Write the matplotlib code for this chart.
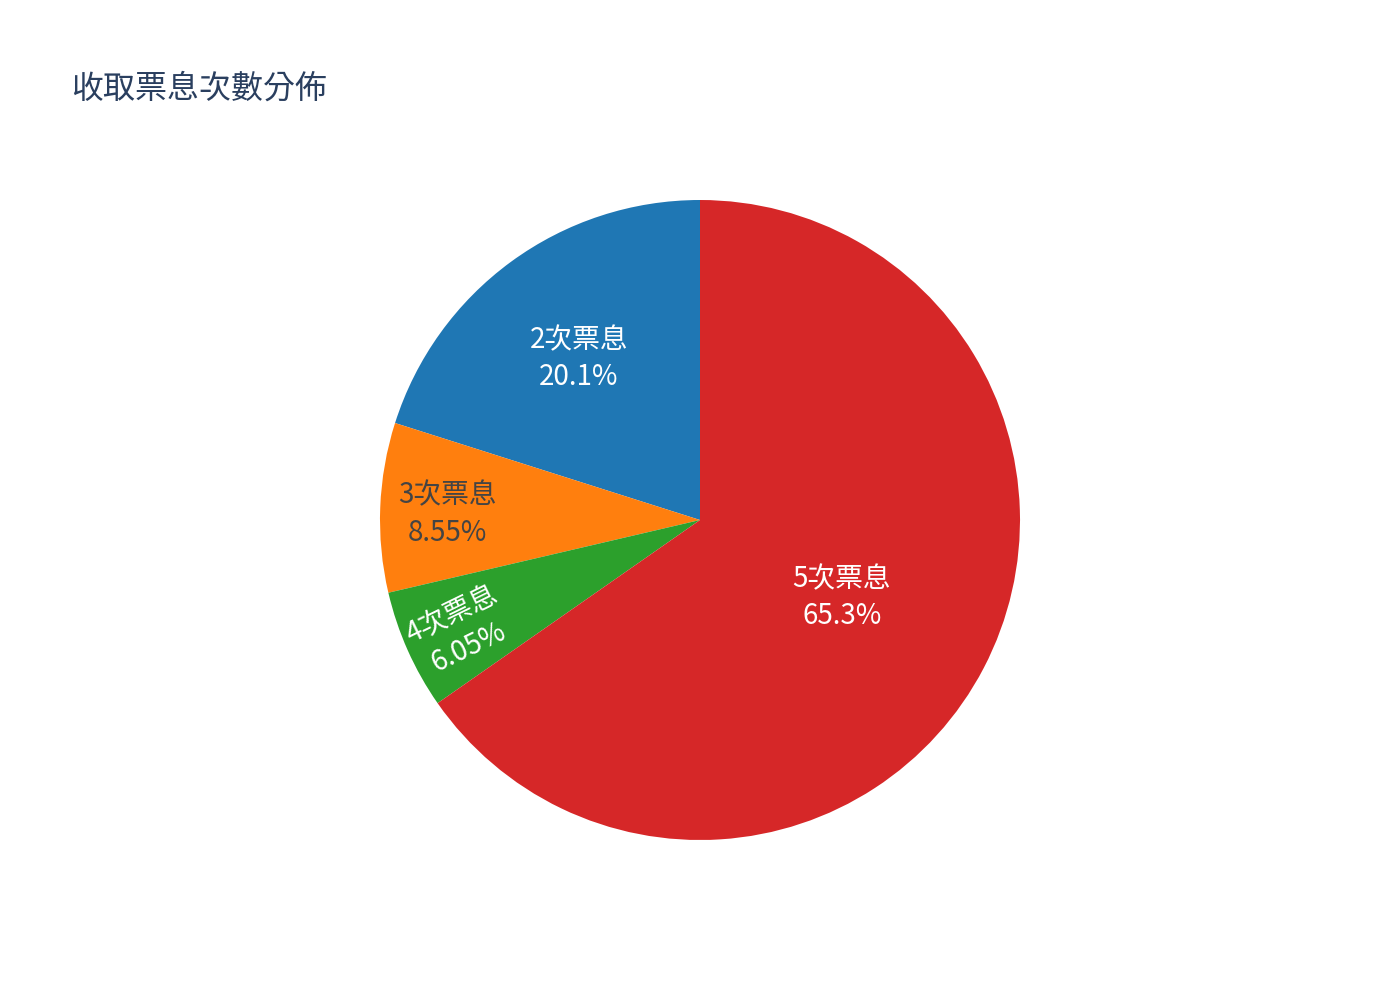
import matplotlib
matplotlib.use("Agg")
import matplotlib.pyplot as plt
import matplotlib.transforms as mtransforms
import numpy as np

plt.rcParams['font.family'] = ['Noto Sans CJK TC', 'DejaVu Sans']

title = "收取票息次數分佈"
categories = ["2次票息", "3次票息", "4次票息", "5次票息"]
values = [20.1, 8.55, 6.05, 65.3]
pct_labels = ["20.1%", "8.55%", "6.05%", "65.3%"]
colors = ["#1f77b4", "#ff7f0e", "#2ca02c", "#d62728"]
text_colors = ["white", "#444444", "white", "white"]
label_radius = [0.64, 0.79, 0.82, 0.50]
label_radial = [False, False, True, False]

fig = plt.figure(figsize=(14, 10), dpi=100)
ax = fig.add_axes([(700 - 320) / 1400, (1000 - 520 - 320) / 1000, 640 / 1400, 640 / 1000])
wedges, _ = ax.pie(values, colors=colors, startangle=90, counterclock=True, radius=1.0,
                   wedgeprops=dict(linewidth=0))
ax.set_xlim(-1, 1)
ax.set_ylim(-1, 1)
ax.set_aspect('equal')
ax.axis('off')

shift = ax.transData + mtransforms.ScaledTranslation(0, -4 / 100, fig.dpi_scale_trans)
for w, cat, pct, tc, r, radial in zip(wedges, categories, pct_labels, text_colors, label_radius, label_radial):
    mid = np.deg2rad((w.theta1 + w.theta2) / 2)
    x, y = r * np.cos(mid), r * np.sin(mid)
    rot = 0
    if radial:
        rot = np.rad2deg(mid) - 180 + 2
    ax.text(x, y, f"{cat}\n{pct}", ha='center', va='center', color=tc, fontsize=20,
            rotation=rot, rotation_mode='anchor', linespacing=1.3, transform=shift)

fig.text(71 / 1400, 1 - 89 / 1000, title, ha='left', va='center', fontsize=23, color="#2a3f5f")

fig.savefig("out.png", dpi=100, facecolor='white')
